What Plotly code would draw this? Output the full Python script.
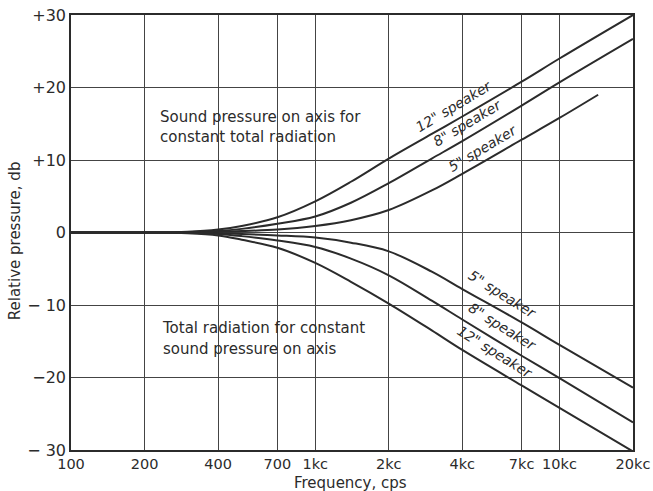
import math
import plotly.graph_objects as go

# ---- data ----
freq = [100, 200, 300, 400, 500, 700, 1000, 1400, 2000, 3000, 4000, 7000, 10000, 20000]
freq_up5 = [100, 200, 300, 400, 500, 700, 1000, 1400, 2000, 3000, 4000, 7000, 10000, 14400]

up12 = [0, 0, 0.1, 0.4, 0.9, 2.1, 4.3, 7.0, 10.2, 13.6, 16.0, 20.8, 24.0, 30.0]
up8 = [0, 0, 0.05, 0.2, 0.5, 1.2, 2.2, 4.1, 6.8, 10.2, 12.6, 17.5, 20.7, 26.7]
up5 = [0, 0, 0, 0.1, 0.2, 0.4, 0.9, 1.7, 3.1, 5.8, 8.1, 12.8, 15.8, 19.0]

lo5 = [0, 0, 0, -0.1, -0.2, -0.4, -0.7, -1.4, -2.6, -5.4, -7.8, -12.4, -15.5, -21.4]
lo8 = [0, 0, -0.05, -0.2, -0.5, -1.1, -2.0, -3.6, -5.9, -9.4, -12.0, -17.0, -20.1, -26.2]
lo12 = [0, 0, -0.1, -0.4, -1.0, -2.1, -4.2, -6.8, -9.8, -13.5, -16.2, -21.1, -24.2, -30.2]

x_tickvals = [100, 200, 400, 700, 1000, 2000, 4000, 7000, 10000, 20000]
x_ticktext = ["100", "200", "400", "700", "1kc", "2kc", "4kc", "7kc", "10kc", "20kc"]
y_tickvals = [30, 20, 10, 0, -10, -20, -30]
y_ticktext = ["+30", "+20", "+10", "0", "\u2212 10", "\u221220", "\u2212 30"]

INK = "#2b2b2b"
FONT = "DejaVu Sans"

fig = go.Figure()
for xs, ys in [(freq, up12), (freq, up8), (freq_up5, up5),
               (freq, lo5), (freq, lo8), (freq, lo12)]:
    fig.add_trace(go.Scatter(x=xs, y=ys, mode="lines",
                             line=dict(color=INK, width=2, shape="spline", smoothing=1.0),
                             showlegend=False, hoverinfo="skip"))

lx = lambda f: math.log10(f)

annos = [
    dict(x=lx(227), y=16.0, text="Sound pressure on axis for"),
    dict(x=lx(227), y=13.2, text="constant total radiation"),
    dict(x=lx(232), y=-13.2, text="Total radiation for constant"),
    dict(x=lx(234), y=-16.1, text="sound pressure on axis"),
]
for a in annos:
    fig.add_annotation(xref="x", yref="y", showarrow=False, xanchor="left", yanchor="middle",
                       font=dict(family=FONT, size=15, color=INK), **a)

spk = [
    (3700, 17.4, '12" speaker', -31),
    (4190, 15.1, '8" speaker', -31),
    (4860, 11.7, '5" speaker', -31),
    (5820, -8.5, '5" speaker', 32),
    (5870, -13.0, '8" speaker', 32),
    (5450, -16.5, '12" speaker', 32),
]
for f, v, t, ang in spk:
    fig.add_annotation(x=lx(f), y=v, xref="x", yref="y", text=t, showarrow=False,
                       textangle=ang,
                       font=dict(family=FONT, size=14, color=INK, style="italic"))

# axis titles
fig.add_annotation(x=0.498, y=-0.076, xref="paper", yref="paper", text="Frequency, cps",
                   showarrow=False, xanchor="center", yanchor="middle",
                   font=dict(family=FONT, size=15, color=INK))
fig.add_annotation(x=-0.0996, y=0.48, xref="paper", yref="paper", text="Relative pressure, db",
                   showarrow=False, xanchor="center", yanchor="middle", textangle=-90,
                   font=dict(family=FONT, size=15, color=INK))

fig.update_xaxes(type="log", range=[2, math.log10(20000)],
                 tickvals=x_tickvals, ticktext=x_ticktext,
                 showgrid=True, gridcolor="#444", gridwidth=1,
                 showline=True, linecolor=INK, linewidth=1.5, mirror=True,
                 ticks="", zeroline=False, automargin=False, ticklabeloverflow="allow",
                 tickfont=dict(family=FONT, size=14.5, color=INK))
fig.update_yaxes(range=[-30, 30], tickvals=y_tickvals, ticktext=y_ticktext,
                 showgrid=True, gridcolor="#444", gridwidth=1,
                 showline=True, linecolor=INK, linewidth=1.5, mirror=True,
                 ticks="", zeroline=False, automargin=False, ticklabeloverflow="allow",
                 tickfont=dict(family=FONT, size=16, color=INK))

fig.update_layout(width=653, height=491,
                  margin=dict(l=71, r=20, t=15, b=41),
                  paper_bgcolor="white", plot_bgcolor="white",
                  font=dict(family=FONT, color=INK))

# remove the page's default 8px body margin so the figure fills the window exactly
fig.write_html("out.html", config={"displayModeBar": False},
               post_script="document.body.style.margin='0';document.body.style.overflow='hidden';")
